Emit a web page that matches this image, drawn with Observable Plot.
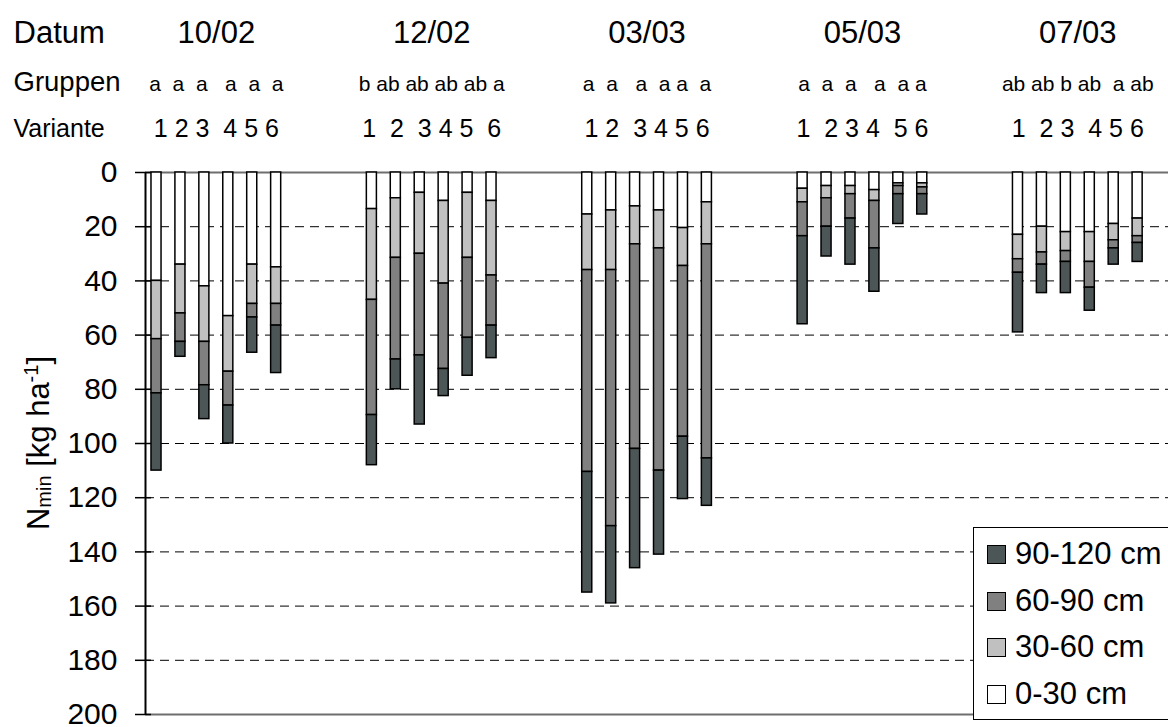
<!DOCTYPE html>
<html>
<head>
<meta charset="utf-8">
<script src="https://cdn.jsdelivr.net/npm/d3@7"></script>
<script src="https://cdn.jsdelivr.net/npm/@observablehq/plot@0.6"></script>
<style>
  html, body { margin: 0; padding: 0; background: #fff; }
  #chart { position: relative; width: 1168px; height: 727px; overflow: hidden;
           font-family: "Liberation Sans", Arial, sans-serif; color: #000; }
  #chart svg text { white-space: pre; }
  .legend { position: absolute; left: 973px; top: 527px; width: 220px; height: 193px;
            border: 1px solid #000; background: #fff; box-sizing: border-box; }
  .legend .row { position: absolute; left: 13px; height: 34px; display: flex; align-items: center; }
  .legend .sw { width: 19px; height: 19px; border: 1px solid #000; box-sizing: border-box; margin-right: 9px; }
  .legend .lab { font-size: 31px; line-height: 34px; white-space: nowrap; }
</style>
</head>
<body>
<div id="chart"></div>
<script>
// ---------- data ----------
const dates = ["10/02", "12/02", "03/03", "05/03", "07/03"];
const variants = ["1", "2", "3", "4", "5", "6"];
const gruppenLabels = ["a  a  a   a  a  a", "b ab ab ab ab a", "a  a   a  a a  a", "a  a  a   a  a a", "ab ab b ab  a ab"];
const varianteLabels = ["1 2 3  4 5 6", "1  2  3 4 5  6", "1 2  3 4 5 6", "1  2 3 4  5 6", "1  2 3  4 5 6"];
const layers = ["0-30 cm", "30-60 cm", "60-90 cm", "90-120 cm"];
const layerColors = ["#ffffff", "#c0c0c0", "#808080", "#4d5656"];
// Nmin per soil layer [kg ha-1]; 30 bars = 5 dates x 6 variants
const n0_30   = [40, 34, 42, 53, 34, 35,   13.5, 9.5, 7.5, 10.5, 7.5, 10.5,   15.5, 14, 12.5, 14, 20.5, 11,   6, 5, 5, 6.5, 4, 4,   23, 20, 22, 22, 19, 17];
const n30_60  = [21.5, 18, 20.5, 20.5, 14.5, 13.5,   33.5, 22, 22.5, 30.5, 24, 27.5,   20.5, 22, 14, 14, 14, 15.5,   5, 4.5, 3, 4, 1, 1.5,   9, 9.5, 7, 11, 6, 6.5];
const n60_90  = [20, 10.5, 16, 12.5, 5, 8,   42.5, 37.5, 37.5, 31.5, 29.5, 18.5,   74.5, 94.5, 75.5, 82, 63, 79,   12.5, 10.5, 9, 17.5, 3, 2.5,   5, 4.5, 4, 9.5, 3, 2.5];
const n90_120 = [28.5, 5.5, 12.5, 14, 13, 17.5,   18.5, 11, 25.5, 10, 14, 12,   44.5, 28.5, 44, 31, 23, 17.5,   32.5, 11, 17, 16, 11, 7.5,   22, 10.5, 11.5, 8.5, 6, 7];
const yTicks = [0, 20, 40, 60, 80, 100, 120, 140, 160, 180, 200];
const gridValues = [20, 40, 60, 80, 100, 120, 140, 160, 180];
const rowLabels = ["Datum", "Gruppen", "Variante"];

// ---------- build table ----------
const series = [n0_30, n30_60, n60_90, n90_120];
const slotsPerGroup = 9;           // 6 bars + 3 empty slots
const hw = 0.21;                   // half bar width in slot units
const rows = [];
dates.forEach((date, g) => {
  variants.forEach((v, i) => {
    const k = g * 6 + i;
    let cum = 0;
    series.forEach((arr, l) => {
      const y1 = cum; cum += arr[k];
      rows.push({date, variant: v, slot: g * slotsPerGroup + i, layer: layers[l], y1, y2: cum});
    });
  });
});
const groupCenter = (d, g) => g * slotsPerGroup + 2.5;
const xDomain = [-0.46, 42.29];

const W = 1168, H = 727, mL = 145, mR = 0, mT = 172, mB = 13;
const frameW = W - mL - mR;

const plot = Plot.plot({
  width: W, height: H,
  marginTop: mT, marginBottom: mB, marginLeft: mL, marginRight: mR,
  x: {domain: xDomain, axis: null},
  y: {domain: [0, 200], reverse: true, axis: null},
  color: {domain: layers, range: layerColors},
  style: {fontFamily: "'Liberation Sans', Arial, sans-serif", color: "#000", background: "#fff", overflow: "visible"},
  marks: [
    Plot.ruleY(gridValues, {stroke: "#000", strokeWidth: 1, strokeDasharray: "9,6"}),
    Plot.ruleY([0, 200], {stroke: "#6e6e6e", strokeWidth: 2}),
    Plot.tickY(yTicks, {y: d => d, insetRight: frameW - 16, dx: -10, stroke: "#000", strokeWidth: 1.5}),
    Plot.axisY(yTicks, {tickSize: 0, tickPadding: 28, fontSize: 30, label: null, fill: "#000"}),
    Plot.rect(rows, {
      x1: d => d.slot - hw, x2: d => d.slot + hw,
      y1: "y1", y2: "y2", fill: "layer",
      stroke: "#000", strokeWidth: 1.5
    }),
    Plot.ruleX([xDomain[0]], {y1: 0, y2: 200, stroke: "#000", strokeWidth: 2}),
    // header rows
    Plot.text([rowLabels[0]], {frameAnchor: "top-left", dx: -132, dy: -130, lineAnchor: "bottom", textAnchor: "start", fontSize: 31, fill: "#000"}),
    Plot.text([rowLabels[1]], {frameAnchor: "top-left", dx: -132, dy: -82, lineAnchor: "bottom", textAnchor: "start", fontSize: 27.5, fill: "#000"}),
    Plot.text([rowLabels[2]], {frameAnchor: "top-left", dx: -132, dy: -36, lineAnchor: "bottom", textAnchor: "start", fontSize: 25, fill: "#000"}),
    Plot.text(dates, {x: groupCenter, frameAnchor: "top", dy: -130, lineAnchor: "bottom", fontSize: 31, fill: "#000"}),
    Plot.text(gruppenLabels, {x: groupCenter, frameAnchor: "top", dy: -82, lineAnchor: "bottom", fontSize: 21, fill: "#000"}),
    Plot.text(varianteLabels, {x: groupCenter, frameAnchor: "top", dy: -36, lineAnchor: "bottom", fontSize: 25, fill: "#000"})
  ]
});

// y-axis title with subscript / superscript
const svg = d3.select(plot);
const t = svg.append("text")
  .attr("transform", `translate(49,${mT + (H - mB - mT) / 2}) rotate(-90)`)
  .attr("text-anchor", "middle").attr("font-size", 31).attr("fill", "#000");
t.append("tspan").text("N");
t.append("tspan").attr("font-size", 20).attr("dy", 2).text("min");
t.append("tspan").attr("dy", -2).text(" [kg ha");
t.append("tspan").attr("font-size", 20).attr("dy", -11).text("-1");
t.append("tspan").attr("dy", 11).text("]");

const chart = document.getElementById("chart");
chart.appendChild(plot);

// legend (top entry = deepest layer)
const legend = document.createElement("div");
legend.className = "legend";
const order = layers.map((l, i) => i).reverse();
const rowTops = [9, 56, 102, 149];
order.forEach((li, r) => {
  const row = document.createElement("div");
  row.className = "row";
  row.style.top = rowTops[r] + "px";
  const sw = document.createElement("div");
  sw.className = "sw"; sw.style.background = layerColors[li];
  const lab = document.createElement("div");
  lab.className = "lab"; lab.textContent = layers[li];
  row.appendChild(sw); row.appendChild(lab);
  legend.appendChild(row);
});
chart.appendChild(legend);
</script>
</body>
</html>
